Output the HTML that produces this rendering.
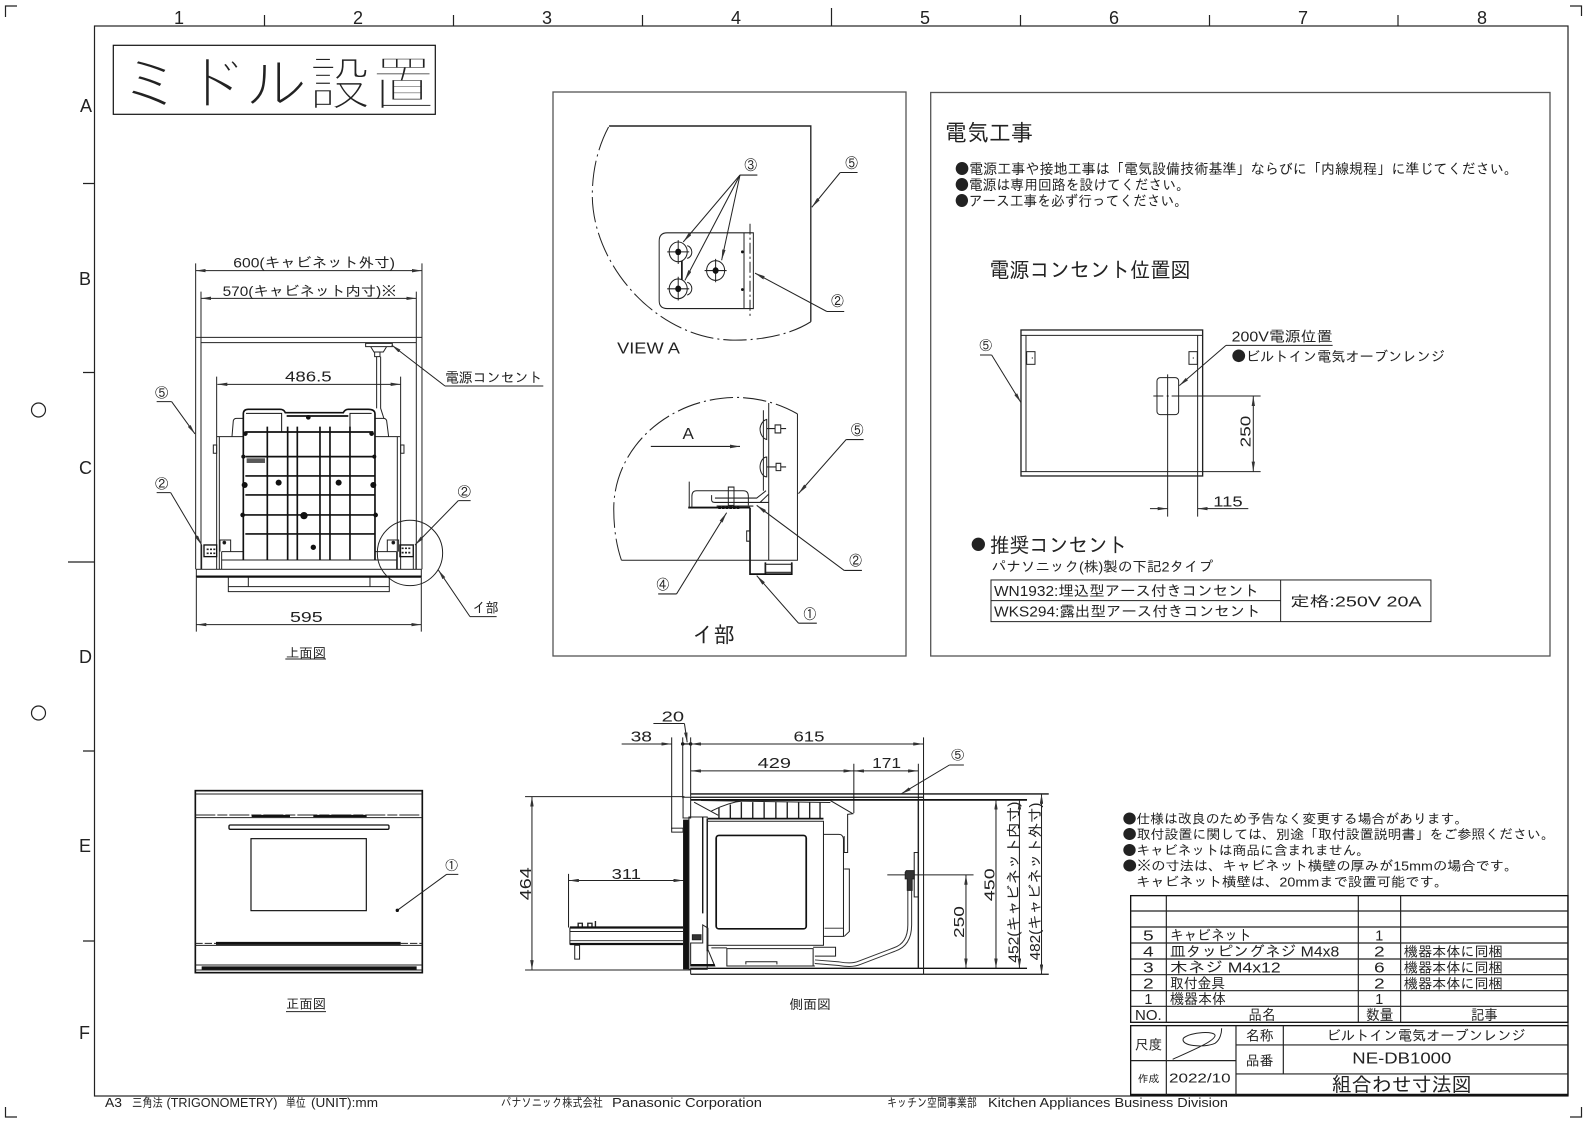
<!DOCTYPE html>
<html><head><meta charset="utf-8"><style>
html,body{margin:0;padding:0;background:#fff}
svg{display:block}
text{font-family:"Liberation Sans","IPAGothic","Noto Sans CJK JP",sans-serif;fill:#222;stroke:none}
.b{font-family:"Noto Sans CJK JP",sans-serif}
</style></head><body>
<svg width="1587" height="1123" viewBox="0 0 1587 1123" xmlns="http://www.w3.org/2000/svg">
<defs>
<marker id="a" viewBox="0 0 30 10" refX="30" refY="5" markerWidth="30" markerHeight="10" orient="auto-start-reverse" markerUnits="userSpaceOnUse"><path d="M0 0L30 5L0 10z" fill="#333"/></marker>
</defs>
<rect width="1587" height="1123" fill="#fff"/>

<!-- frame -->
<g fill="none" stroke="#222" stroke-width="1.2">
<rect x="94.5" y="26" width="1473.5" height="1070"/>
<path d="M264.5 15V26M453.5 15V26M642.5 15V26M831.5 8V26M1020.5 15V26M1209.5 15V26M1398 15V26"/>
<path d="M83 183.5H94M83 372.5H94M68 562H94M83 751H94M83 941H94"/>
<path d="M5.5 17V6H17M1570 6H1581.5V16M5.5 1107V1117H17M1570 1117H1581.5V1107"/>
<circle cx="38.5" cy="410" r="7"/><circle cx="38.5" cy="713" r="7"/>
</g>
<g font-size="18">
<text x="174" y="24">1</text><text x="353" y="24">2</text><text x="542" y="24">3</text><text x="731" y="24">4</text><text x="920" y="24">5</text><text x="1109" y="24">6</text><text x="1298" y="24">7</text><text x="1477" y="24">8</text>
<text x="80" y="112">A</text><text x="79" y="285">B</text><text x="79" y="474">C</text><text x="79" y="663">D</text><text x="79" y="852">E</text><text x="79" y="1039">F</text>
</g>

<!-- title -->
<rect x="113.3" y="45.3" width="322" height="69" fill="none" stroke="#111" stroke-width="1.2"/>
<text x="119" y="105" font-size="60" textLength="316" lengthAdjust="spacingAndGlyphs" style="stroke:#fff;stroke-width:2.4;fill:#222">ミドル設置</text>

<!-- panels -->
<g fill="none" stroke="#555" stroke-width="1.3">
<rect x="553" y="92" width="353" height="564"/>
<rect x="930.7" y="92.5" width="619.3" height="563.5"/>
</g>

<!-- TOP VIEW -->
<g transform="translate(100 230) scale(.3333)" fill="none" stroke="#222" stroke-width="3">
<path d="M287 100V1018M966 100V1018M303 185V1018M949 185V1018"/>
<path d="M287 122H966" marker-start="url(#a)" marker-end="url(#a)"/>
<path d="M303 205H949" marker-start="url(#a)" marker-end="url(#a)"/>
<path d="M352 463H902" marker-start="url(#a)" marker-end="url(#a)"/>
<path d="M289 1184H964" marker-start="url(#a)" marker-end="url(#a)"/>
<path d="M287 322H966M303 338H949M289 1205V1042M964 1205V1042M350 440V1018M902 440V1018"/>
<rect x="289" y="1018" width="675" height="22"/>
<path d="M289 1040H964" stroke-width="7" stroke="#111"/>
<path d="M385 1042V1085H868V1042M385 1070H868M445 1042V1070M810 1042V1070"/>
<!-- outlet + cord -->
<path d="M797 340H877V350H797ZM812 350H860L850 366H822ZM824 366H840V380H824ZM830 380V535M842 380V535L852 566"/>
<!-- body -->
<path d="M350 620H430M825 620H900M358 620V1018M892 620V1018M396 620L400 572Q402 565 410 565H430M825 565H850Q858 565 860 572L866 620M340 645H350V670H340ZM902 645H912V670H902Z"/>
<path d="M360 965V930H392V965M862 965V930H896V965M365 965H430M825 965H890M365 965V1018M890 965V1018M365 990H890"/>
<circle cx="373" cy="938" r="4" fill="#111"/><circle cx="880" cy="938" r="4" fill="#111"/>
<g stroke="#111"><rect x="312" y="945" width="38" height="35" stroke-width="4"/><rect x="900" y="945" width="40" height="35" stroke-width="4"/></g>
<path d="M305 945V1018M948 945V1018M940 945V1018" />
<path d="M320 958h26M320 970h26M905 955h30M905 968h30" stroke-width="5" stroke-dasharray="6 4"/>
<!-- grid -->
<g stroke="#111" stroke-width="5">
<path d="M430 990V552Q430 538 445 538H540Q552 538 556 548H730Q735 538 745 538H805Q825 538 825 552V990"/>
<path d="M436 606H820M436 680H825M436 738H825M436 795H825M430 855H825M436 912H825M560 558H745" />
<path d="M502 590V990M563 590V990M592 590V990M660 590V990M690 590V990M750 590V990"/>
<path d="M438 550H545V606M750 606V550H815" stroke-width="3"/>
</g>
<g fill="#111" stroke="none">
<circle cx="536" cy="758" r="9"/><circle cx="716" cy="758" r="9"/><circle cx="612" cy="857" r="11"/><circle cx="640" cy="952" r="8"/><circle cx="625" cy="562" r="7"/>
<circle cx="436" cy="611" r="7"/><circle cx="815" cy="611" r="7"/><circle cx="430" cy="680" r="6"/><circle cx="823" cy="680" r="6"/><circle cx="434" cy="765" r="9"/><circle cx="820" cy="765" r="9"/><circle cx="428" cy="855" r="7"/><circle cx="827" cy="855" r="7"/>
<rect x="440" y="685" width="55" height="14" opacity=".7"/>
</g>
<circle cx="930" cy="969" r="98"/>
<path d="M1035 468H1330M170 515H215M170 788H212M1075 812H1112M1190 1160H1110"/>
<path d="M1035 468L875 345" marker-end="url(#a)"/>
<path d="M215 515L285 612" marker-end="url(#a)"/>
<path d="M212 788L305 945" marker-end="url(#a)"/>
<path d="M1075 812L945 945" marker-end="url(#a)"/>
<path d="M1110 1160L1015 1020" marker-end="url(#a)"/>
<path d="M556 1287H678" stroke-width="3"/>
<text x="400" y="113" font-size="42" textLength="485" lengthAdjust="spacingAndGlyphs">600(キャビネット外寸)</text>
<text x="368" y="198" font-size="42" textLength="522" lengthAdjust="spacingAndGlyphs">570(キャビネット内寸)※</text>
<text x="555" y="455" font-size="44" textLength="140" lengthAdjust="spacingAndGlyphs">486.5</text>
<text x="1035" y="458" font-size="42" textLength="292" lengthAdjust="spacingAndGlyphs">電源コンセント</text>
<text x="570" y="1176" font-size="44" textLength="98" lengthAdjust="spacingAndGlyphs">595</text>
<text x="1118" y="1147" font-size="42" textLength="78" lengthAdjust="spacingAndGlyphs">イ部</text>
<text x="558" y="1282" font-size="40" textLength="120" lengthAdjust="spacingAndGlyphs">上面図</text>
<text x="165" y="503" font-size="40">⑤</text>
<text x="165" y="776" font-size="40">②</text>
<text x="1073" y="799" font-size="40">②</text>
</g>

<!-- DETAIL PANEL -->
<g transform="translate(539.6 84.7) scale(.334 .3658)" fill="none" stroke="#222" stroke-width="3">
<path d="M812 648V113H208" stroke-width="4"/>
<path d="M812 648C740 690 640 700 570 698C340 690 150 480 158 290C160 220 180 160 208 113" stroke-dasharray="70 12 6 12"/>
<path d="M640 405H382Q358 405 358 428V590Q358 612 382 612H640ZM612 405V612"/>
<path d="M630 380V635" stroke-dasharray="30 8 6 8"/>
<circle cx="415" cy="457" r="27"/><circle cx="415" cy="558" r="27"/><circle cx="527" cy="508" r="27"/>
<path d="M382 457H448M415 425V490M382 558H448M415 525V590M494 508H560M527 476V540M442 440A18 18 0 0 1 442 475M442 540A18 18 0 0 1 442 575"/>
<path d="M426 482V533" stroke-width="5" stroke="#111"/>
<g fill="#111" stroke="none"><circle cx="415" cy="457" r="9"/><circle cx="415" cy="558" r="9"/><circle cx="527" cy="508" r="9"/><circle cx="607" cy="457" r="4"/><circle cx="607" cy="560" r="4"/></g>
<path d="M600 247H652M900 240H952M912 620H860"/>
<path d="M600 247L430 430" marker-end="url(#a)"/>
<path d="M600 247L435 535" marker-end="url(#a)"/>
<path d="M600 247L545 480" marker-end="url(#a)"/>
<path d="M900 240L815 335" marker-end="url(#a)"/>
<path d="M860 620L645 515" marker-end="url(#a)"/>
<!-- lower -->
<path d="M772 900V1300H245M686 870V1300" stroke-width="3"/>
<path d="M772 900C715 870 650 855 590 855C390 855 222 990 222 1160C222 1220 232 1265 245 1300" stroke-dasharray="70 12 6 12"/>
<path d="M670 890V1110M660 940A25 30 0 0 0 680 970V915A25 30 0 0 0 660 940ZM660 1045A20 28 0 0 0 680 1072V1018A20 28 0 0 0 660 1045ZM680 940H705V930H722V952H705V940M722 940H738M680 1045H708V1035H722V1055H708V1045M722 1045H738"/>
<path d="M445 1156H630M630 1156V1338H755V1306M676 1306V1338" stroke="#111" stroke-width="5"/>
<rect x="676" y="1311" width="78" height="22" />
<path d="M448 1085V1156M456 1156V1125Q456 1110 470 1110H610Q625 1110 625 1125V1150M515 1122V1135Q515 1142 525 1142H660L685 1120M525 1130H650L678 1110M640 1142H686M530 1152H640"/>
<path d="M565 1100H582V1150H565Z"/>
<path d="M535 1156H600" stroke="#111" stroke-width="8" stroke-dasharray="8 3"/>
<path d="M620 1220H630V1248H620Z"/>
<path d="M333 989H600" marker-end="url(#a)"/>
<path d="M970 970H918M965 1328H912M355 1392H410M830 1472H775"/>
<path d="M918 970L775 1118" marker-end="url(#a)"/>
<path d="M912 1328L650 1150" marker-end="url(#a)"/>
<path d="M410 1392L560 1170" marker-end="url(#a)"/>
<path d="M775 1472L650 1342" marker-end="url(#a)"/>
<text x="232" y="735" font-size="44" textLength="188" lengthAdjust="spacingAndGlyphs">VIEW  A</text>
<text x="428" y="969" font-size="44" textLength="34" lengthAdjust="spacingAndGlyphs">A</text>
<text x="458" y="1525" font-size="60" textLength="127" lengthAdjust="spacingAndGlyphs">イ部</text>
<text x="613" y="233" font-size="38">③</text>
<text x="915" y="228" font-size="38">⑤</text>
<text x="873" y="605" font-size="38">②</text>
<text x="932" y="958" font-size="38">⑤</text>
<text x="927" y="1315" font-size="38">②</text>
<text x="350" y="1380" font-size="38">④</text>
<text x="790" y="1460" font-size="38">①</text>
</g>

<!-- ELECTRICAL -->
<text x="945" y="141" font-size="23" textLength="88" lengthAdjust="spacingAndGlyphs">電気工事</text>
<g font-size="14.5">
<text x="955" y="174" textLength="563" lengthAdjust="spacingAndGlyphs"><tspan class="b">●</tspan>電源工事や接地工事は「電気設備技術基準」ならびに「内線規程」に準じてください。</text>
<text x="955" y="190" textLength="235" lengthAdjust="spacingAndGlyphs"><tspan class="b">●</tspan>電源は専用回路を設けてください。</text>
<text x="955" y="206" textLength="233" lengthAdjust="spacingAndGlyphs"><tspan class="b">●</tspan>アース工事を必ず行ってください。</text>
</g>
<g transform="translate(920 240) scale(.3333)" fill="none" stroke="#222" stroke-width="3">
<rect x="303" y="270" width="545" height="438" stroke-width="4"/>
<path d="M303 286H848M318 286V695M833 286V695M303 695H848"/>
<rect x="320" y="335" width="25" height="38"/><rect x="807" y="335" width="25" height="38"/>
<rect x="711" y="413" width="65" height="111" rx="10"/>
<path d="M743 403V830M700 468H730M755 468H1022M848 695H1022M833 695V830"/>
<path d="M1000 468V695" marker-start="url(#a)" marker-end="url(#a)"/>
<path d="M690 806H743" marker-end="url(#a)"/>
<path d="M985 806H833" marker-end="url(#a)"/>
<path d="M180 345H215M918 316H1238"/>
<path d="M215 345L303 488" marker-end="url(#a)"/>
<path d="M918 316L778 437" marker-end="url(#a)"/>
<circle cx="175" cy="913" r="20" fill="#222" stroke="none"/>
<g fill="#222" stroke="none"><circle cx="337" cy="354" r="2"/><circle cx="820" cy="354" r="2"/><circle cx="743" cy="468" r="3"/></g>
<rect x="213" y="1020" width="1320" height="125"/>
<path d="M1082 1020V1145M213 1082H1082"/>
<text x="208" y="113" font-size="64" textLength="604" lengthAdjust="spacingAndGlyphs">電源コンセント位置図</text>
<text x="935" y="305" font-size="44" textLength="303" lengthAdjust="spacingAndGlyphs">200V電源位置</text>
<text x="935" y="365" font-size="42" textLength="640" lengthAdjust="spacingAndGlyphs"><tspan class="b">●</tspan>ビルトイン電気オーブンレンジ</text>
<text x="210" y="937" font-size="62" textLength="412" lengthAdjust="spacingAndGlyphs">推奨コンセント</text>
<text x="215" y="995" font-size="42" textLength="665" lengthAdjust="spacingAndGlyphs">パナソニック(株)製の下記2タイプ</text>
<text x="222" y="1068" font-size="44" textLength="795" lengthAdjust="spacingAndGlyphs">WN1932:埋込型アース付きコンセント</text>
<text x="222" y="1130" font-size="44" textLength="800" lengthAdjust="spacingAndGlyphs">WKS294:露出型アース付きコンセント</text>
<text x="1110" y="1100" font-size="44" textLength="395" lengthAdjust="spacingAndGlyphs">定格:250V  20A</text>
<text x="178" y="330" font-size="38">⑤</text>
<text x="1000" y="630" font-size="44" transform="rotate(-90 992 630)" textLength="95" lengthAdjust="spacingAndGlyphs">250</text>
<text x="880" y="800" font-size="44" textLength="88" lengthAdjust="spacingAndGlyphs">115</text>
</g>

<!-- FRONT VIEW -->
<g transform="translate(180 780) scale(.3333)" fill="none" stroke="#222" stroke-width="3">
<rect x="46" y="32" width="681" height="546" stroke-width="5" stroke="#111"/>
<path d="M46 42H727M46 113H727M46 496H727M46 555H727M46 570H727"/>
<path d="M46 105H727" stroke-dasharray="60 6 30 6"/>
<path d="M215 108H330M400 108H560" stroke="#111" stroke-width="7"/>
<path d="M108 490H662" stroke="#111" stroke-width="9"/>
<path d="M46 490H108M662 490H727" stroke-dasharray="22 6"/>
<path d="M65 564H710" stroke="#111" stroke-width="10"/>
<rect x="147" y="135" width="480" height="13" rx="4" stroke-width="4" stroke="#111"/>
<rect x="213" y="176" width="346" height="216" stroke-width="3.5" stroke="#111"/>
<path d="M800 283H835M800 283L652 391"/>
<circle cx="652" cy="391" r="5" fill="#111" stroke="none"/>
<path d="M318 695H438"/>
<text x="318" y="685" font-size="40" textLength="120" lengthAdjust="spacingAndGlyphs">正面図</text>
<text x="796" y="270" font-size="38">①</text>
</g>

<!-- SIDE VIEW -->
<g transform="translate(507.8 694.6) scale(.345 .329)" fill="none" stroke="#222" stroke-width="3">
<path d="M422 88H512" />
<path d="M512 88L520 145" marker-end="url(#a)"/>
<path d="M330 150H475" marker-end="url(#a)"/>
<path d="M507 150H530" stroke-width="4"/>
<circle cx="507" cy="150" r="5" fill="#111" stroke="none"/><circle cx="530" cy="150" r="5" fill="#111" stroke="none"/>
<path d="M530 150H1205" marker-start="url(#a)" marker-end="url(#a)"/>
<path d="M530 232H1003" marker-start="url(#a)" marker-end="url(#a)"/>
<path d="M1003 232H1190" marker-start="url(#a)" marker-end="url(#a)"/>
<path d="M176 565H510" marker-start="url(#a)" marker-end="url(#a)"/>
<path d="M475 130V408M507 130V315M530 130V310M1205 130V850M1190 210V830M1003 210V360M176 545V708"/>
<path d="M530 302H1568M530 312H1205" stroke-width="4" stroke="#111"/>
<path d="M530 320H1505" stroke-width="5" stroke="#111"/>
<path d="M530 832H1505M530 850H1568" stroke-width="4" stroke="#111"/>
<path d="M50 310H512M50 837H530M1100 548H1350M530 850V830M1205 302V850" />
<path d="M70 310V837" marker-start="url(#a)" marker-end="url(#a)"/>
<path d="M1328 548V832" marker-start="url(#a)" marker-end="url(#a)"/>
<path d="M1415 320V832" marker-start="url(#a)" marker-end="url(#a)"/>
<path d="M1483 320V832" marker-start="url(#a)" marker-end="url(#a)"/>
<path d="M1547 302V850" marker-start="url(#a)" marker-end="url(#a)"/>
<path d="M1280 214H1322"/>
<path d="M1280 214L1140 302" marker-end="url(#a)"/>
<!-- door -->
<path d="M508 312H530V375H508Z"/>
<rect x="508" y="380" width="17" height="455" fill="#111" stroke="none"/>
<rect x="525" y="372" width="53" height="463"/>
<path d="M565 372V665M578 378V780" stroke-width="4" stroke="#111"/>
<rect x="475" y="406" width="33" height="12"/>
<rect x="578" y="385" width="337" height="377"/>
<rect x="604" y="428" width="261" height="284" rx="8" stroke-width="5" stroke="#111"/>
<g transform="translate(0 -8)">
<path d="M590 362Q640 335 690 330L935 330L1000 370L985 372V488H975V438"/>
<path d="M540 335L610 375M560 330L935 336"/>
<path d="M612 352V385M645 342V385M677 335V385M710 335V385M743 335V385M777 335V385M810 335V385M843 335V385M875 335V385M905 335V385" stroke-width="4"/>
<path d="M580 385H915" stroke-width="5" stroke="#111"/>
</g>
<path d="M915 425H960Q972 425 973 440V735H915M918 710H973M975 530L990 530V720L975 735"/>
<!-- tray -->
<path d="M180 708H508M180 758H508" stroke-width="7" stroke="#111"/>
<path d="M180 708V760M180 720H508M180 748H508"/>
<rect x="194" y="762" width="14" height="42"/>
<path d="M204 705V695h12v10M232 705V695h12v10M254 705V688" stroke-width="4"/>
<!-- lower body -->
<path d="M530 755H565V700L580 710V775L600 825H530Z"/>
<path d="M635 772H885V825H635ZM690 820V812H780V820M590 770H635M885 768H950V795H890M640 825H890" />
<path d="M530 822H600" stroke-width="6" stroke="#111"/>
<path d="M535 730H560V745H535Z" fill="#333"/>
<!-- cord -->
<path d="M1165 595V700Q1165 760 1120 775L1020 815Q1000 825 960 818L890 812" stroke-width="14" stroke="#333"/>
<path d="M1165 595V700Q1165 760 1120 775L1020 815Q1000 825 960 818L890 812" stroke-width="8" stroke="#fff"/>
<rect x="1178" y="480" width="12" height="135"/>
<path d="M1155 535H1178V560H1172V595H1158V560H1152V540Z" fill="#333"/>
<path d="M1190 320V832" stroke-width="4"/>
<text x="446" y="82" font-size="44" textLength="65" lengthAdjust="spacingAndGlyphs">20</text>
<text x="356" y="143" font-size="44" textLength="62" lengthAdjust="spacingAndGlyphs">38</text>
<text x="828" y="143" font-size="44" textLength="90" lengthAdjust="spacingAndGlyphs">615</text>
<text x="724" y="223" font-size="44" textLength="97" lengthAdjust="spacingAndGlyphs">429</text>
<text x="1056" y="223" font-size="44" textLength="84" lengthAdjust="spacingAndGlyphs">171</text>
<text x="301" y="560" font-size="44" textLength="85" lengthAdjust="spacingAndGlyphs">311</text>
<text x="1285" y="197" font-size="38">⑤</text>
<text x="816" y="955" font-size="40" textLength="120" lengthAdjust="spacingAndGlyphs">側面図</text>
<text transform="translate(67 625) rotate(-90)" font-size="46" textLength="100" lengthAdjust="spacingAndGlyphs">464</text>
<text transform="translate(1322 740) rotate(-90)" font-size="44" textLength="97" lengthAdjust="spacingAndGlyphs">250</text>
<text transform="translate(1410 628) rotate(-90)" font-size="44" textLength="100" lengthAdjust="spacingAndGlyphs">450</text>
<text transform="translate(1481 815) rotate(-90)" font-size="42" textLength="490" lengthAdjust="spacingAndGlyphs">452(キャビネット内寸)</text>
<text transform="translate(1543 808) rotate(-90)" font-size="42" textLength="480" lengthAdjust="spacingAndGlyphs">482(キャビネット外寸)</text>
</g>

<!-- NOTES & TABLE -->
<g transform="translate(1100 790) scale(.3333)" fill="none" stroke="#222" stroke-width="3">
<text x="68" y="100" font-size="40" textLength="1037" lengthAdjust="spacingAndGlyphs"><tspan class="b">●</tspan>仕様は改良のため予告なく変更する場合があります。</text>
<text x="68" y="147" font-size="40" textLength="1297" lengthAdjust="spacingAndGlyphs"><tspan class="b">●</tspan>取付設置に関しては、別途「取付設置説明書」をご参照ください。</text>
<text x="68" y="195" font-size="40" textLength="742" lengthAdjust="spacingAndGlyphs"><tspan class="b">●</tspan>キャビネットは商品に含まれません。</text>
<text x="68" y="242" font-size="40" textLength="1187" lengthAdjust="spacingAndGlyphs"><tspan class="b">●</tspan>※の寸法は、キャビネット横壁の厚みが15mmの場合です。</text>
<text x="108" y="290" font-size="40" textLength="937" lengthAdjust="spacingAndGlyphs">キャビネット横壁は、20mmまで設置可能です。</text>

<rect x="92" y="317" width="1312" height="380" stroke-width="4" stroke="#111"/>
<path d="M92 363H1404M92 411H1404M92 459H1404M92 507H1404M92 554H1404M92 602H1404M92 649H1404M199 317V697M775 317V697M902 317V697" stroke-width="3.5" stroke="#222"/>
<g font-size="44">
<text x="129" y="452" textLength="32" lengthAdjust="spacingAndGlyphs">5</text>
<text x="129" y="499" textLength="32" lengthAdjust="spacingAndGlyphs">4</text>
<text x="129" y="547" textLength="32" lengthAdjust="spacingAndGlyphs">3</text>
<text x="129" y="595" textLength="32" lengthAdjust="spacingAndGlyphs">2</text>
<text x="133" y="642" textLength="24" lengthAdjust="spacingAndGlyphs">1</text>
<text x="105" y="690" textLength="80" lengthAdjust="spacingAndGlyphs">NO.</text>
<text x="210" y="452" textLength="245" lengthAdjust="spacingAndGlyphs">キャビネット</text>
<text x="210" y="499" textLength="508" lengthAdjust="spacingAndGlyphs">皿タッピングネジ  M4x8</text>
<text x="210" y="547" textLength="332" lengthAdjust="spacingAndGlyphs">木ネジ  M4x12</text>
<text x="210" y="595" textLength="165" lengthAdjust="spacingAndGlyphs">取付金具</text>
<text x="210" y="642" textLength="168" lengthAdjust="spacingAndGlyphs">機器本体</text>
<text x="445" y="690" textLength="82" lengthAdjust="spacingAndGlyphs">品名</text>
<text x="826" y="452" textLength="24" lengthAdjust="spacingAndGlyphs">1</text>
<text x="822" y="499" textLength="32" lengthAdjust="spacingAndGlyphs">2</text>
<text x="822" y="547" textLength="32" lengthAdjust="spacingAndGlyphs">6</text>
<text x="822" y="595" textLength="32" lengthAdjust="spacingAndGlyphs">2</text>
<text x="826" y="642" textLength="24" lengthAdjust="spacingAndGlyphs">1</text>
<text x="798" y="690" textLength="82" lengthAdjust="spacingAndGlyphs">数量</text>
<text x="1113" y="690" textLength="80" lengthAdjust="spacingAndGlyphs">記事</text>
</g>
<g font-size="42">
<text x="912" y="499" textLength="296" lengthAdjust="spacingAndGlyphs">機器本体に同梱</text>
<text x="912" y="547" textLength="296" lengthAdjust="spacingAndGlyphs">機器本体に同梱</text>
<text x="912" y="595" textLength="296" lengthAdjust="spacingAndGlyphs">機器本体に同梱</text>
</g>
<rect x="92" y="707" width="1312" height="208" stroke-width="4" stroke="#111"/>
<path d="M92 915H1404" stroke-width="7" stroke="#111"/>
<path d="M199 707V915M408 707V915M550 707V852M408 765H1404M408 852H1404M92 812H408" stroke-width="3.5"/>
<path d="M218 808C280 780 340 755 345 738C350 722 270 725 250 745C240 768 310 775 345 760C360 750 365 730 365 715"/>
<text x="105" y="778" font-size="42" textLength="82" lengthAdjust="spacingAndGlyphs">尺度</text>
<text x="113" y="878" font-size="32" textLength="65" lengthAdjust="spacingAndGlyphs">作成</text>
<text x="207" y="878" font-size="40" textLength="185" lengthAdjust="spacingAndGlyphs">2022/10</text>
<text x="437" y="752" font-size="42" textLength="84" lengthAdjust="spacingAndGlyphs">名称</text>
<text x="437" y="826" font-size="42" textLength="84" lengthAdjust="spacingAndGlyphs">品番</text>
<text x="680" y="752" font-size="42" textLength="597" lengthAdjust="spacingAndGlyphs">ビルトイン電気オーブンレンジ</text>
<text x="757" y="820" font-size="46" textLength="297" lengthAdjust="spacingAndGlyphs">NE-DB1000</text>
<text x="695" y="905" font-size="60" textLength="420" lengthAdjust="spacingAndGlyphs">組合わせ寸法図</text>
</g>

<!-- bottom strip -->
<g font-size="12.5">
<text x="105" y="1107" textLength="17" lengthAdjust="spacingAndGlyphs">A3</text>
<text x="132" y="1107" textLength="31" lengthAdjust="spacingAndGlyphs">三角法</text>
<text x="166.5" y="1107" textLength="111" lengthAdjust="spacingAndGlyphs">(TRIGONOMETRY)</text>
<text x="286" y="1107" textLength="20" lengthAdjust="spacingAndGlyphs">単位</text>
<text x="311" y="1107" textLength="67" lengthAdjust="spacingAndGlyphs">(UNIT):mm</text>
<text x="501" y="1107" textLength="102" lengthAdjust="spacingAndGlyphs">パナソニック株式会社</text>
<text x="612" y="1107" textLength="150" lengthAdjust="spacingAndGlyphs">Panasonic  Corporation</text>
<text x="887" y="1107" textLength="90" lengthAdjust="spacingAndGlyphs">キッチン空間事業部</text>
<text x="988" y="1107" textLength="240" lengthAdjust="spacingAndGlyphs">Kitchen  Appliances  Business  Division</text>
</g>
</svg>
</body></html>
